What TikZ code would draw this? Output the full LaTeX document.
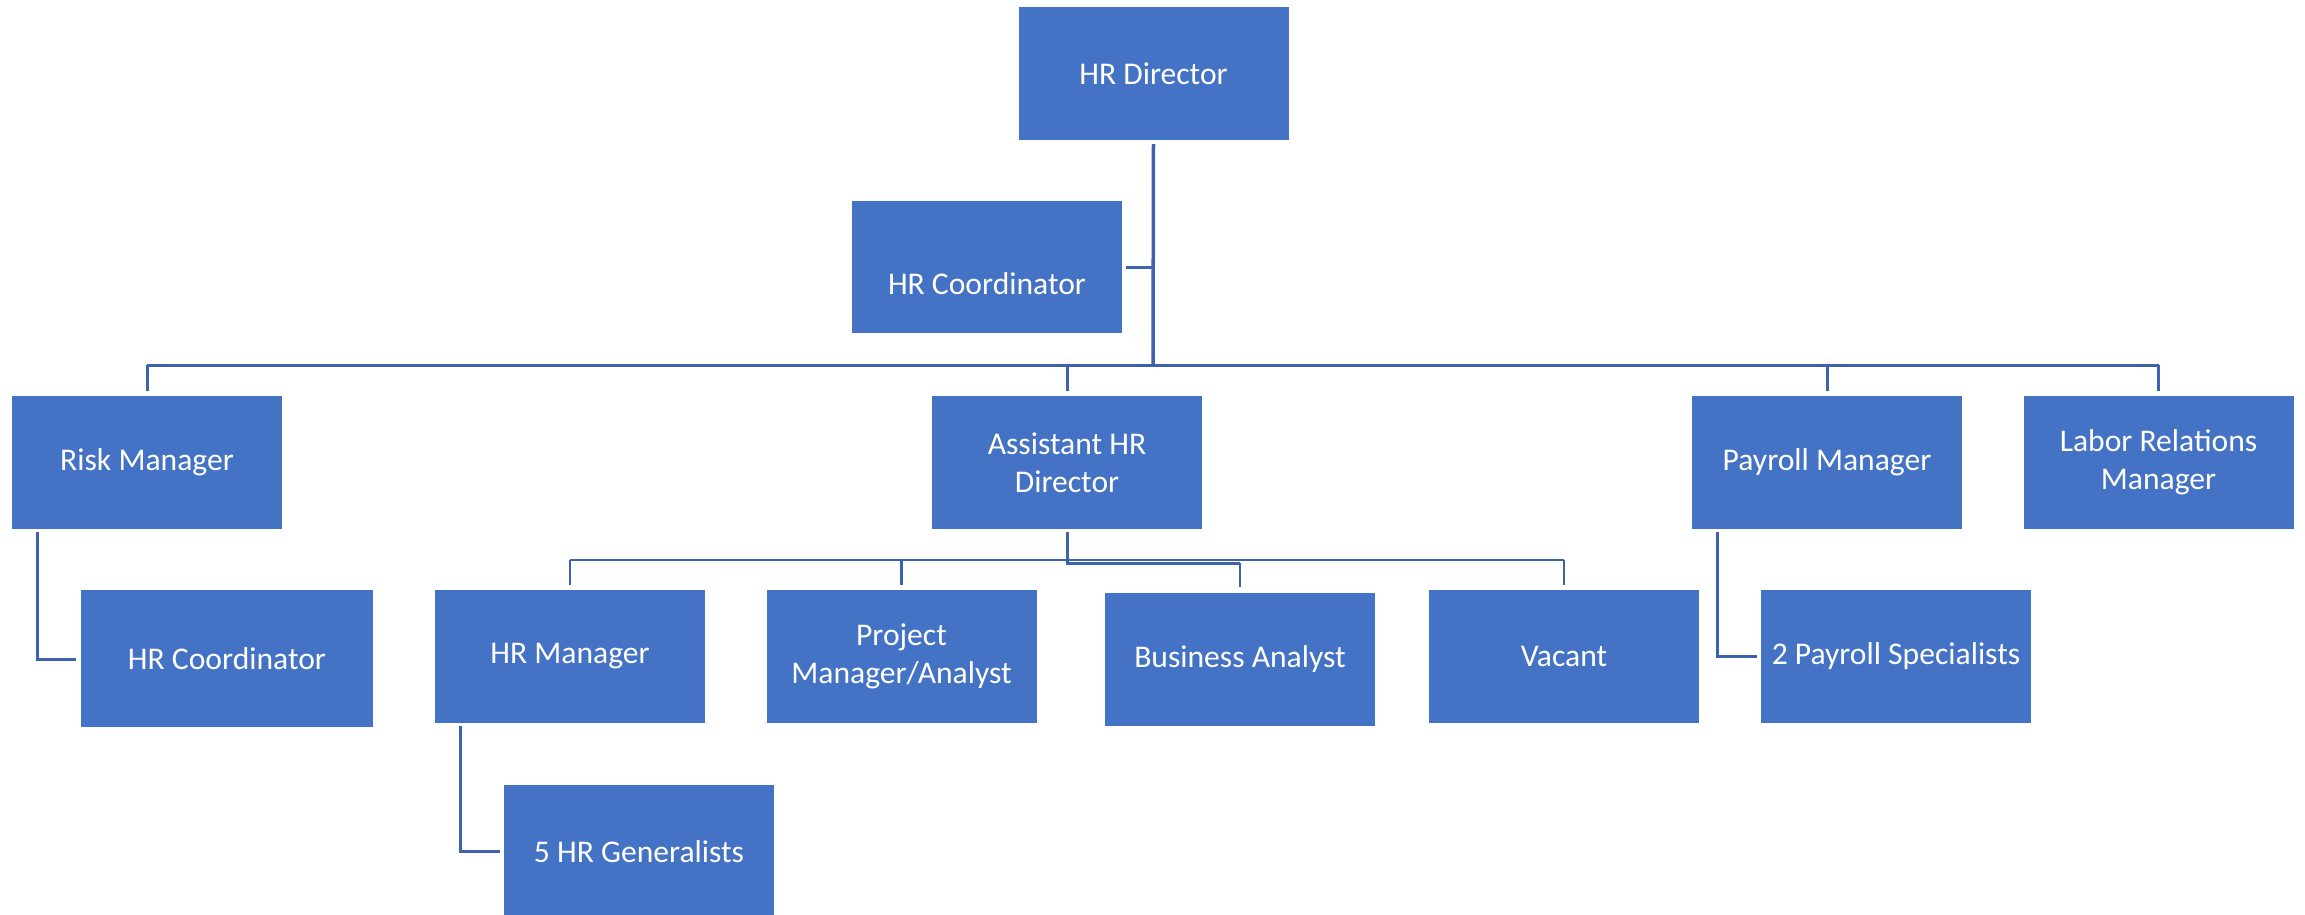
\documentclass[tikz,border=0pt]{standalone}
\usepackage{fontspec}
\setmainfont{Carlito}
\definecolor{boxblue}{RGB}{68,114,196}
\definecolor{lineblue}{RGB}{63,98,174}
\begin{document}
\begin{tikzpicture}[x=1pt,y=-1pt,
  orgbox/.style={rectangle, fill=boxblue, draw=none, minimum width=270pt, minimum height=133pt,
     text=white, align=center, inner sep=0pt, font=\fontsize{31.6}{38}\selectfont},
  conn/.style={draw=lineblue, line width=3pt},
  thinconn/.style={draw=lineblue, line width=2.5pt}]
\useasboundingbox (0,0) rectangle (2305,914);
\clip (0,0) rectangle (2305,914);
% boxes
\node[orgbox] (dir) at (1153.5,73.5) {HR Director};
\node[orgbox, minimum height=132pt] (coordTop) at (987,267) {};
\node[text=white, font=\fontsize{31.6}{38}\selectfont, inner sep=0pt] (coordTopTxt) at (987,284) {HR Coordinator};
\node[orgbox] (risk) at (147,462.5) {Risk Manager};
\node[orgbox] (asst) at (1067,462.5) {Assistant HR\\Director};
\node[orgbox] (payroll) at (1827,462.5) {Payroll Manager};
\node[orgbox] (labor) at (2158.5,462.5) {Labor Relations\\Manager};
\node[orgbox, minimum width=292pt, minimum height=137pt] (coordLow) at (227,658.5) {HR Coordinator};
\node[orgbox] (hrmgr) at (570,656.5) {HR Manager};
\node[orgbox] (pm) at (901.5,656.5) {Project\\Manager/Analyst};
\node[orgbox] (ba) at (1240,659) {Business Analyst};
\node[orgbox] (vacant) at (1564,656.5) {Vacant};
\node[orgbox] (payspec) at (1896,656.5) {2 Payroll Specialists};
\node[orgbox] (gen) at (639,851.5) {5 HR Generalists};
% coordinates
\coordinate (bus) at (1153,365);
\coordinate (subbus) at (1067,560);
\coordinate (riskTurn) at (37,659);
\coordinate (hrTurn) at (460,851);
\coordinate (payTurn) at (1717,656);
% top-level connectors
\draw[conn, line width=3.5pt, shorten <=4pt] (dir.south) -- (bus);
\draw[conn, shorten <=4pt] (coordTop.east |- 0,267) -- (dir.south |- 0,267);
\draw[conn] (risk.north |- bus) -- (labor.north |- bus);
\draw[conn, shorten >=5pt] (risk.north |- bus) -- (risk.north);
\draw[conn, shorten >=5pt] (asst.north |- bus) -- (asst.north);
\draw[conn, shorten >=5pt] (payroll.north |- bus) -- (payroll.north);
\draw[conn, shorten >=5pt] (labor.north |- bus) -- (labor.north);
% assistant sub-bus
\draw[conn, shorten <=3pt] (asst.south) -- (subbus);
\draw[thinconn] (hrmgr.north |- subbus) -- (vacant.north |- subbus);
\draw[conn] (subbus) -- ++(0,3) -- (ba.north |- 0,563);
\draw[thinconn, shorten >=5pt] (hrmgr.north |- subbus) -- (hrmgr.north);
\draw[thinconn, shorten >=5pt] (pm.north |- subbus) -- (pm.north);
\draw[thinconn, shorten >=5pt] (ba.north |- 0,563) -- (ba.north);
\draw[thinconn, shorten >=5pt] (vacant.north |- subbus) -- (vacant.north);
% side branches
\draw[conn, shorten <=3pt, shorten >=5pt] (riskTurn |- risk.south) -- (riskTurn) -- (coordLow.west |- riskTurn);
\draw[conn, shorten <=3pt, shorten >=4pt] (hrTurn |- hrmgr.south) -- (hrTurn) -- (gen.west |- hrTurn);
\draw[conn, shorten <=3pt, shorten >=4pt] (payTurn |- payroll.south) -- (payTurn) -- (payspec.west |- payTurn);
\end{tikzpicture}
\end{document}
